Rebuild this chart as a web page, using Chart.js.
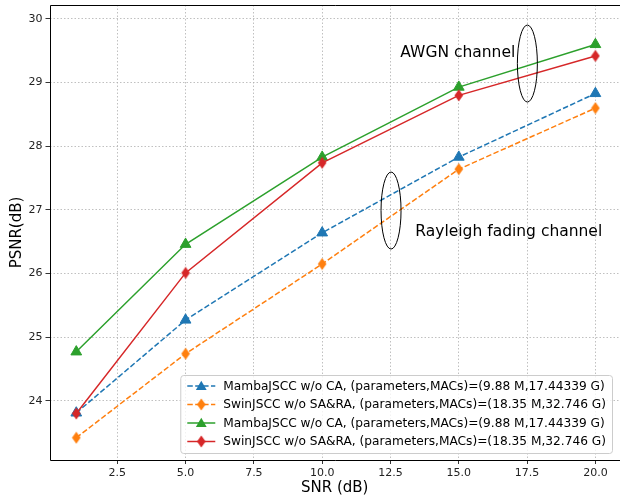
<!DOCTYPE html>
<html>
<head>
<meta charset="utf-8">
<script src="https://cdn.jsdelivr.net/npm/chart.js@4.4.1/dist/chart.umd.min.js"></script>
<style>
  html, body { margin: 0; padding: 0; background: #fff; }
  #chart { display: block; }
</style>
</head>
<body>
<canvas id="chart" width="620" height="500"></canvas>
<script>
/* ── data ────────────────────────────────────────────────── */

const SNR = [1, 5, 10, 15, 20];

const MAMBA_RAYLEIGH = [23.81, 25.27, 26.64, 27.83, 28.83];
const SWIN_RAYLEIGH  = [23.42, 24.74, 26.15, 27.64, 28.60];
const MAMBA_AWGN     = [24.77, 26.46, 27.83, 28.93, 29.60];
const SWIN_AWGN      = [23.80, 26.01, 27.74, 28.80, 29.42];

const LABELS = [
  "MambaJSCC w/o CA, (parameters,MACs)=(9.88 M,17.44339 G)",
  "SwinJSCC w/o SA&RA, (parameters,MACs)=(18.35 M,32.746 G)",
  "MambaJSCC w/o CA, (parameters,MACs)=(9.88 M,17.44339 G)",
  "SwinJSCC w/o SA&RA, (parameters,MACs)=(18.35 M,32.746 G)",
];

const X_TICKS = [2.5, 5, 7.5, 10, 12.5, 15, 17.5, 20];
const Y_TICKS = [24, 25, 26, 27, 28, 29, 30];

// annotations: [text, x, y] and [cx, cy, rx, ry] in data units
const AWGN_TEXT     = ["AWGN channel", 12.86, 29.47];
const RAYLEIGH_TEXT = ["Rayleigh fading channel", 13.41, 26.66];
const ELLIPSES      = [[17.51, 29.30, 0.366, 0.605], [12.52, 26.99, 0.366, 0.605]];

/* ── helpers ─────────────────────────────────────────────── */

const FONT = "'DejaVu Sans', sans-serif";
const BLUE = "#1f77b4", ORANGE = "#ff7f0e", GREEN = "#2ca02c", RED = "#d62728";
const TRI_R = 6.2;

function thinDiamond(color) {
  const c = document.createElement("canvas");
  c.width = 10; c.height = 13;
  const g = c.getContext("2d");
  g.beginPath();
  g.moveTo(5, 0.5); g.lineTo(9.3, 6.5); g.lineTo(5, 12.5); g.lineTo(0.7, 6.5);
  g.closePath();
  g.fillStyle = color; g.fill();
  return c;
}

function pts(ys) { return SNR.map((x, i) => ({ x, y: ys[i] })); }

function series(label, ys, color, dashed, marker, order) {
  return {
    label,
    data: pts(ys),
    borderColor: color,
    backgroundColor: color,
    borderWidth: 1.5,
    borderDash: dashed ? [5.5, 2.4] : [],
    pointStyle: marker === "tri" ? "triangle" : thinDiamond(color),
    pointRadius: TRI_R,
    pointBorderWidth: 1,
    pointBorderColor: color,
    pointBackgroundColor: color,
    tension: 0,
    clip: false,
    order,
  };
}

const datasets = [
  series(LABELS[0], MAMBA_RAYLEIGH, BLUE,   true,  "tri", 4),
  series(LABELS[1], SWIN_RAYLEIGH,  ORANGE, true,  "dia", 3),
  series(LABELS[2], MAMBA_AWGN,     GREEN,  false, "tri", 2),
  series(LABELS[3], SWIN_AWGN,      RED,    false, "dia", 1),
];

/* ── plugins ─────────────────────────────────────────────── */

const frame = {
  id: "frame",
  afterDatasetsDraw(chart) {
    const { ctx, chartArea: a, scales: { x, y } } = chart;
    ctx.save();

    // annotations
    ctx.strokeStyle = "#000"; ctx.lineWidth = 1;
    ELLIPSES.forEach(([cx, cy, rx, ry]) => {
      const px = x.getPixelForValue(cx), py = y.getPixelForValue(cy);
      const prx = x.getPixelForValue(cx + rx) - px;
      const pry = py - y.getPixelForValue(cy + ry);
      ctx.beginPath();
      ctx.ellipse(px, py, prx, pry, 0, 0, Math.PI * 2);
      ctx.stroke();
    });
    ctx.fillStyle = "#000";
    ctx.font = `15.5px ${FONT}`;
    ctx.textBaseline = "middle";
    ctx.textAlign = "left";
    [AWGN_TEXT, RAYLEIGH_TEXT].forEach(([t, tx, ty]) => {
      ctx.fillText(t, x.getPixelForValue(tx), y.getPixelForValue(ty));
    });

    // spines (right one falls off the canvas)
    const L = Math.round(a.left) + 0.5, T = Math.round(a.top) + 0.5, B = Math.round(a.bottom) + 0.5;
    ctx.strokeStyle = "#000"; ctx.lineWidth = 1;
    ctx.beginPath();
    ctx.moveTo(a.right + 1, T); ctx.lineTo(L, T); ctx.lineTo(L, B); ctx.lineTo(a.right + 1, B);
    ctx.stroke();

    // legend
    ctx.font = `12.2px ${FONT}`;
    const tw = Math.max(...LABELS.map(l => ctx.measureText(l).width));
    const right = a.right - 8, bottom = a.bottom - 7;
    const rowH = 18.5;
    const h = rowH * 4 + 4;
    const w = 43 + tw + 6;
    const left = right - w, top = bottom - h;
    ctx.beginPath();
    ctx.roundRect(left + 0.5, top + 0.5, w, h, 3);
    ctx.fillStyle = "rgba(255,255,255,0.8)";
    ctx.fill();
    ctx.strokeStyle = "#cccccc";
    ctx.stroke();

    chart.data.datasets.forEach((ds, i) => {
      const cy = top + 11 + i * rowH;
      const hx = left + 7;
      ctx.strokeStyle = ds.borderColor;
      ctx.lineWidth = 1.5;
      ctx.setLineDash(ds.borderDash);
      ctx.beginPath();
      ctx.moveTo(hx, cy); ctx.lineTo(hx + 28, cy);
      ctx.stroke();
      ctx.setLineDash([]);
      const mx = hx + 14;
      ctx.fillStyle = ds.borderColor;
      if (ds.pointStyle === "triangle") {
        const r = TRI_R;
        ctx.beginPath();
        ctx.moveTo(mx, cy - r * 0.85);
        ctx.lineTo(mx + r * 0.87, cy + r * 0.65);
        ctx.lineTo(mx - r * 0.87, cy + r * 0.65);
        ctx.closePath();
        ctx.fill();
      } else {
        ctx.drawImage(ds.pointStyle, mx - 5, cy - 6.5);
      }
      ctx.fillStyle = "#000";
      ctx.textBaseline = "middle";
      ctx.fillText(ds.label, left + 43, cy + 0.5);
    });

    // axis titles
    ctx.font = `15px ${FONT}`;
    ctx.fillStyle = "#000";
    ctx.textAlign = "center";
    ctx.textBaseline = "middle";
    ctx.fillText("SNR (dB)", (a.left + a.right) / 2, 488);
    ctx.translate(17, (a.top + a.bottom) / 2);
    ctx.rotate(-Math.PI / 2);
    ctx.fillText("PSNR(dB)", 0, 0);
    ctx.restore();
  },
};

/* ── chart ───────────────────────────────────────────────── */

const gridOpts = {
  color: "#b0b0b0",
  lineWidth: 0.8,
  drawTicks: true,
  tickLength: 4,
  tickColor: "#000",
  tickWidth: 0.8,
  tickBorderDash: [],
};

function noPad(s) {
  s.paddingLeft = 0; s.paddingRight = 0;
  s.paddingTop = 0; s.paddingBottom = 0;
}

new Chart(document.getElementById("chart"), {
  type: "line",
  data: { datasets },
  options: {
    responsive: false,
    animation: false,
    layout: { autoPadding: false, padding: { top: 5, left: 0, right: 0, bottom: 0 } },
    plugins: { legend: { display: false }, tooltip: { enabled: false } },
    scales: {
      x: {
        type: "linear",
        min: 0.02,
        max: 20.9,
        afterBuildTicks: s => { s.ticks = X_TICKS.map(v => ({ value: v })); },
        afterFit: s => { s.height = 40; noPad(s); },
        ticks: {
          callback: v => Number(v).toFixed(1),
          font: { size: 11, family: FONT },
          color: "#222",
          padding: 3,
          maxRotation: 0,
          autoSkip: false,
        },
        grid: gridOpts,
        border: { display: false, dash: [1.5, 2] },
      },
      y: {
        type: "linear",
        min: 23.07,
        max: 30.22,
        afterBuildTicks: s => { s.ticks = Y_TICKS.map(v => ({ value: v })); },
        afterFit: s => { s.width = 49.5; noPad(s); },
        ticks: {
          callback: v => String(v),
          font: { size: 11, family: FONT },
          color: "#222",
          padding: 3,
          autoSkip: false,
        },
        grid: gridOpts,
        border: { display: false, dash: [1.5, 2] },
      },
    },
  },
  plugins: [frame],
});
</script>
</body>
</html>
